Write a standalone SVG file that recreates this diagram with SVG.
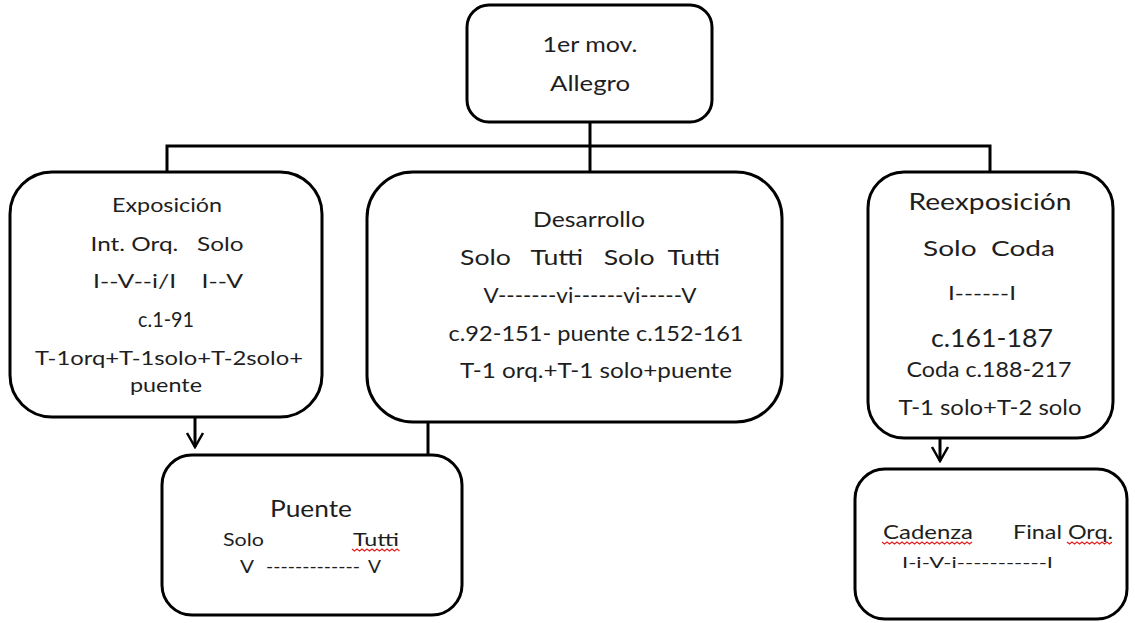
<svg xmlns="http://www.w3.org/2000/svg" width="1135" height="623" viewBox="0 0 1135 623">
  <style>
    .box { fill: #ffffff; stroke: #000000; stroke-width: 3; }
    .wire { fill: none; stroke: #000000; stroke-width: 3; }
    .t { font-family: Lato, "Liberation Sans", sans-serif; fill: #1e1e1e; }
    .c { text-anchor: middle; }
    .squiggle { fill: none; stroke: #e02020; stroke-width: 1.2; }
  </style>
  <defs>
    <!-- open chevron arrowhead, drawn pointing along +x so orient="auto" turns it with the line -->
    <marker id="vee" viewBox="0 0 20 20" refX="18" refY="10" markerWidth="20" markerHeight="20" markerUnits="userSpaceOnUse" orient="auto">
      <path d="M4,2 L18,10 L4,18" fill="none" stroke="#000" stroke-width="2.5"/>
    </marker>
  </defs>

  <rect width="1135" height="623" fill="#ffffff"/>

  <!-- connectors -->
  <g id="connectors">
    <line class="wire" x1="590" y1="122" x2="590" y2="147" stroke-width="4"/>
    <polyline class="wire" points="167,172 167,146 990,146 990,172"/>
    <line class="wire" x1="590" y1="146" x2="590" y2="172" stroke-width="2.5"/>
    <line class="wire" x1="428" y1="422" x2="428" y2="455" stroke-width="2.5"/>
    <line class="wire" x1="195" y1="417" x2="195" y2="447" stroke-width="2.5" marker-end="url(#vee)"/>
    <line class="wire" x1="940" y1="438" x2="940" y2="461" stroke-width="2.5" marker-end="url(#vee)"/>
  </g>

  <!-- 1er movimiento -->
  <g id="node-mov">
    <rect class="box" x="467" y="5" width="245" height="117" rx="22"/>
    <text class="t c" x="590" y="52" font-size="22" textLength="95" lengthAdjust="spacingAndGlyphs">1er mov.</text>
    <text class="t c" x="590" y="91" font-size="22" textLength="80" lengthAdjust="spacingAndGlyphs">Allegro</text>
  </g>

  <!-- Exposición -->
  <g id="node-exposicion">
    <rect class="box" x="10" y="172" width="312" height="245" rx="42"/>
    <text class="t c" x="167" y="212" font-size="20" textLength="110" lengthAdjust="spacingAndGlyphs">Exposición</text>
    <text class="t c" x="167" y="251" font-size="20" textLength="153" lengthAdjust="spacingAndGlyphs" xml:space="preserve">Int. Orq.   Solo</text>
    <text class="t c" x="168" y="288" font-size="20" textLength="150" lengthAdjust="spacingAndGlyphs" xml:space="preserve">I--V--i/I    I--V</text>
    <text class="t c" x="166" y="327" font-size="21" textLength="56" lengthAdjust="spacingAndGlyphs">c.1-91</text>
    <text class="t c" x="169" y="365" font-size="20" textLength="268" lengthAdjust="spacingAndGlyphs">T-1orq+T-1solo+T-2solo+</text>
    <text class="t c" x="166" y="392" font-size="20" textLength="72" lengthAdjust="spacingAndGlyphs">puente</text>
  </g>

  <!-- Desarrollo -->
  <g id="node-desarrollo">
    <rect class="box" x="367" y="172" width="415" height="250" rx="46"/>
    <text class="t c" x="589" y="227" font-size="21" textLength="112" lengthAdjust="spacingAndGlyphs">Desarrollo</text>
    <text class="t c" x="590" y="265" font-size="21" textLength="260" lengthAdjust="spacingAndGlyphs" xml:space="preserve">Solo   Tutti   Solo  Tutti</text>
    <text class="t c" x="590" y="303" font-size="21" textLength="213" lengthAdjust="spacingAndGlyphs">V-------vi------vi-----V</text>
    <text class="t c" x="596" y="341" font-size="21" textLength="295" lengthAdjust="spacingAndGlyphs">c.92-151- puente c.152-161</text>
    <text class="t c" x="596" y="378" font-size="21" textLength="272" lengthAdjust="spacingAndGlyphs">T-1 orq.+T-1 solo+puente</text>
  </g>

  <!-- Reexposición -->
  <g id="node-reexposicion">
    <rect class="box" x="868" y="172" width="245" height="266" rx="36"/>
    <text class="t c" x="990" y="210" font-size="23" textLength="163" lengthAdjust="spacingAndGlyphs">Reexposición</text>
    <text class="t c" x="989" y="256" font-size="22" textLength="132" lengthAdjust="spacingAndGlyphs" xml:space="preserve">Solo  Coda</text>
    <text class="t c" x="982" y="300" font-size="19" textLength="68" lengthAdjust="spacingAndGlyphs">I------I</text>
    <text class="t c" x="992" y="347" font-size="25" textLength="122" lengthAdjust="spacingAndGlyphs">c.161-187</text>
    <text class="t c" x="989" y="377" font-size="21" textLength="165" lengthAdjust="spacingAndGlyphs">Coda c.188-217</text>
    <text class="t c" x="990" y="415" font-size="21" textLength="183" lengthAdjust="spacingAndGlyphs">T-1 solo+T-2 solo</text>
  </g>

  <!-- Puente -->
  <g id="node-puente">
    <rect class="box" x="162" y="455" width="300" height="160" rx="30"/>
    <text class="t c" x="311" y="517" font-size="23" textLength="82" lengthAdjust="spacingAndGlyphs">Puente</text>
    <text class="t" x="223" y="546" font-size="18" textLength="41" lengthAdjust="spacingAndGlyphs">Solo</text>
    <text class="t" x="353" y="546" font-size="18" textLength="46" lengthAdjust="spacingAndGlyphs">Tutti</text>
    <path class="squiggle" d="M352,549 l2.5,2 l2.5,-2 l2.5,2 l2.5,-2 l2.5,2 l2.5,-2 l2.5,2 l2.5,-2 l2.5,2 l2.5,-2 l2.5,2 l2.5,-2 l2.5,2 l2.5,-2 l2.5,2 l2.5,-2 l2.5,2 l2.5,-2 l2.5,2"/>
    <text class="t" x="240" y="573" font-size="18" textLength="14" lengthAdjust="spacingAndGlyphs">V</text>
    <text class="t" x="266" y="573" font-size="18" textLength="94" lengthAdjust="spacingAndGlyphs">-------------</text>
    <text class="t" x="368" y="573" font-size="18" textLength="13" lengthAdjust="spacingAndGlyphs">V</text>
  </g>

  <!-- Cadenza / Final orquestal -->
  <g id="node-cadenza">
    <rect class="box" x="855" y="469" width="272" height="150" rx="30"/>
    <text class="t" x="883" y="539" font-size="20" textLength="90" lengthAdjust="spacingAndGlyphs">Cadenza</text>
    <path class="squiggle" d="M882,542 l2.5,2 l2.5,-2 l2.5,2 l2.5,-2 l2.5,2 l2.5,-2 l2.5,2 l2.5,-2 l2.5,2 l2.5,-2 l2.5,2 l2.5,-2 l2.5,2 l2.5,-2 l2.5,2 l2.5,-2 l2.5,2 l2.5,-2 l2.5,2 l2.5,-2 l2.5,2 l2.5,-2 l2.5,2 l2.5,-2 l2.5,2 l2.5,-2 l2.5,2 l2.5,-2 l2.5,2 l2.5,-2 l2.5,2 l2.5,-2 l2.5,2 l2.5,-2 l2.5,2 l2.5,-2"/>
    <text class="t" x="1013" y="539" font-size="20" textLength="100" lengthAdjust="spacingAndGlyphs">Final Orq.</text>
    <path class="squiggle" d="M1067,542 l2.5,2 l2.5,-2 l2.5,2 l2.5,-2 l2.5,2 l2.5,-2 l2.5,2 l2.5,-2 l2.5,2 l2.5,-2 l2.5,2 l2.5,-2 l2.5,2 l2.5,-2 l2.5,2 l2.5,-2 l2.5,2 l2.5,-2"/>
    <text class="t" x="902" y="568" font-size="16" textLength="151" lengthAdjust="spacingAndGlyphs">I-i-V-i-----------I</text>
  </g>
</svg>
